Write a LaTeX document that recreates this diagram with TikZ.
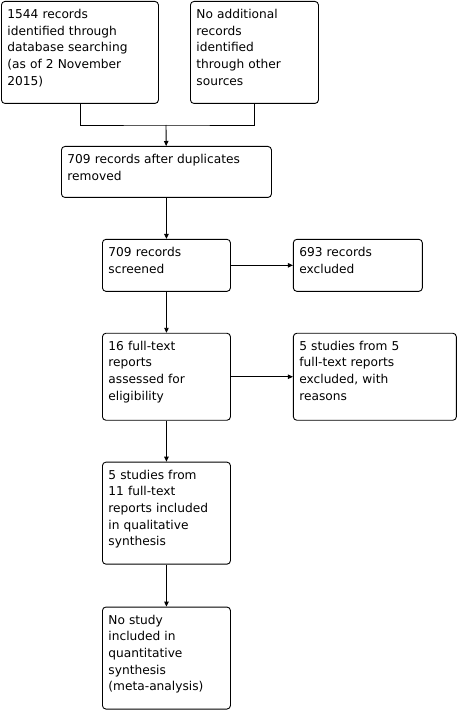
\documentclass[tikz,border=0pt]{standalone}
\usepackage{fontspec}
\setmainfont{DejaVu Sans}
\usetikzlibrary{positioning,arrows.meta}

\begin{document}
\begin{tikzpicture}[
  x=1pt,y=1pt,
  node distance=41pt and 62pt,
  box/.style={draw,line width=0.9pt,rounded corners=3.5pt,align=left,inner xsep=6pt,inner ysep=0pt,
    font=\fontsize{12.2}{16.7}\selectfont,text height=17pt},
  line/.style={-,line width=0.9pt},
  arrow/.style={-{Triangle[length=5pt,width=4.5pt]},line width=0.9pt}
]
\useasboundingbox (0,0) rectangle (458,-711);

\node[box,anchor=north west,text width=145pt,text depth=85pt] (db) at (1,-1)
  {1544 records\\identified through\\database searching\\(as of 2 November\\2015)};
\node[box,anchor=north west,text width=116pt,text depth=85pt] (other) at (190,-1)
  {No additional\\records\\identified\\through other\\sources};
\node[box,anchor=north west,text width=198pt,text depth=34pt] (dup) at (61,-146)
  {709 records after duplicates\\removed};
\node[box,below=of dup,text width=116pt,text depth=35pt] (screen) {709 records\\screened};
\node[box,right=of screen,text width=117pt,text depth=35pt] (excl) {693 records\\excluded};
\node[box,below=of screen,text width=116pt,text depth=70pt] (full) {16 full-text\\reports\\assessed for\\eligibility};
\node[box,right=of full,text width=151pt,text depth=70pt] (fullexcl) {5 studies from 5\\full-text reports\\excluded, with\\reasons};
\node[box,below=of full,text width=116pt,text depth=85pt] (qual) {5 studies from\\11 full-text\\reports included\\in qualitative\\synthesis};
\node[box,below=42pt of qual,text width=116pt,text depth=85pt] (quant) {No study\\included in\\quantitative\\synthesis\\(meta-analysis)};

\coordinate (merge) at (166,-125);
\draw[line] (db.south) |- (merge) -| (other.south);
\draw[arrow] (merge) -- (dup);
\draw[arrow] (dup) -- (screen);
\draw[arrow] (screen) -- (excl);
\draw[arrow] (screen) -- (full);
\draw[arrow] (full) -- (fullexcl);
\draw[arrow] (full) -- (qual);
\draw[arrow] (qual) -- (quant);
\end{tikzpicture}
\end{document}
